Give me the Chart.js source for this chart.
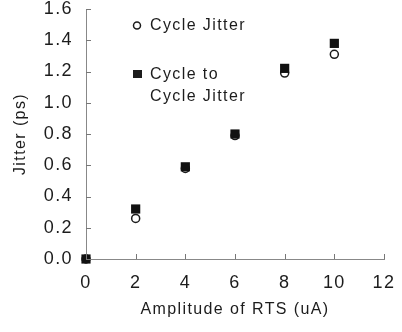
<!DOCTYPE html>
<html>
<head>
<meta charset="utf-8">
<script src="https://cdn.jsdelivr.net/npm/chart.js@4/dist/chart.umd.min.js"></script>
<style>
  html, body { margin: 0; padding: 0; background: #fff; }
  #wrap { width: 402px; height: 332px; }
</style>
</head>
<body>
<div id="wrap"><canvas id="chart" width="402" height="332"></canvas></div>
<script>
const amplitude = [0, 2, 4, 6, 8, 10];
const cycleJitter = [0, 0.26, 0.58, 0.79, 1.19, 1.31];
const cycleToCycleJitter = [0, 0.32, 0.59, 0.80, 1.22, 1.38];
const xTicks = [0, 2, 4, 6, 8, 10, 12];
const yTicks = [0.0, 0.2, 0.4, 0.6, 0.8, 1.0, 1.2, 1.4, 1.6];

const FONT = "'Liberation Sans', Arial, sans-serif";
const INK = "#1c1c1c";

// the scanned figure uses a loosely spaced sans, so widen every string a bit
const spacing = {
  id: "spacing",
  beforeDraw(chart) {
    chart.ctx.letterSpacing = "1.4px";
  }
};

// ticks in this plot point inward, so draw them by hand
const innerTicks = {
  id: "innerTicks",
  afterDraw(chart) {
    const { ctx, scales: { x, y } } = chart;
    ctx.save();
    ctx.strokeStyle = "#777";
    ctx.lineWidth = 1;
    ctx.beginPath();
    yTicks.forEach(v => {
      const py = Math.round(y.getPixelForValue(v)) + 0.5;
      ctx.moveTo(x.left, py);
      ctx.lineTo(x.left + 5, py);
    });
    xTicks.forEach(v => {
      const px = Math.round(x.getPixelForValue(v)) + 0.5;
      ctx.moveTo(px, y.bottom);
      ctx.lineTo(px, y.bottom - 5);
    });
    ctx.stroke();
    ctx.restore();
  }
};

// legend with a two line label, placed inside the plot
const legendBox = {
  id: "legendBox",
  afterDraw(chart) {
    const ctx = chart.ctx;
    ctx.save();
    ctx.font = "16px " + FONT;
    ctx.fillStyle = INK;
    ctx.textBaseline = "middle";
    ctx.textAlign = "left";

    ctx.beginPath();
    ctx.arc(137, 25.5, 3.5, 0, Math.PI * 2);
    ctx.lineWidth = 1.5;
    ctx.strokeStyle = INK;
    ctx.stroke();
    ctx.fillText("Cycle Jitter", 150, 26);

    ctx.fillRect(133, 70, 9, 8);
    ctx.fillText("Cycle to", 150, 75);
    ctx.fillText("Cycle Jitter", 150, 97);
    ctx.restore();
  }
};

function noPad(s) {
  s.paddingTop = 0;
  s.paddingBottom = 0;
  s.paddingLeft = 0;
  s.paddingRight = 0;
}

new Chart(document.getElementById("chart"), {
  type: "scatter",
  data: {
    datasets: [
      {
        label: "Cycle Jitter",
        data: amplitude.map((a, i) => ({ x: a, y: cycleJitter[i] })),
        pointStyle: "circle",
        pointRadius: 4,
        pointBorderWidth: 1.5,
        pointBorderColor: INK,
        pointBackgroundColor: "#fff",
        clip: false,
        order: 1,
      },
      {
        label: "Cycle to Cycle Jitter",
        data: amplitude.map((a, i) => ({ x: a, y: cycleToCycleJitter[i] })),
        pointStyle: "rect",
        pointRadius: 6.5,
        pointBorderWidth: 0,
        pointBackgroundColor: "#111",
        clip: false,
        order: 0,
      },
    ],
  },
  options: {
    responsive: false,
    animation: false,
    layout: { padding: { top: 9, right: 18, left: 0, bottom: 0 } },
    plugins: {
      legend: { display: false },
      tooltip: { enabled: false },
    },
    scales: {
      x: {
        type: "linear",
        min: 0,
        max: 12,
        afterBuildTicks: s => { s.ticks = xTicks.map(v => ({ value: v })); },
        afterFit: s => { s.height = 73; noPad(s); },
        grid: { display: false, drawTicks: false },
        border: { color: "#888", width: 1, dash: [1, 1] },
        ticks: { color: INK, font: { family: FONT, size: 18 }, padding: 13 },
        title: {
          display: true,
          text: "Amplitude of RTS (uA)",
          color: INK,
          font: { family: FONT, size: 16 },
          padding: { top: 0, bottom: 13 },
        },
      },
      y: {
        type: "linear",
        min: 0,
        max: 1.6,
        afterBuildTicks: s => { s.ticks = yTicks.map(v => ({ value: v })); },
        afterFit: s => { s.width = 86; noPad(s); },
        grid: { display: false, drawTicks: false },
        border: { color: "#888", width: 1, dash: [1, 1] },
        ticks: {
          color: INK,
          font: { family: FONT, size: 18 },
          padding: 13,
          callback: v => v.toFixed(1),
        },
        title: {
          display: true,
          text: "Jitter (ps)",
          color: INK,
          font: { family: FONT, size: 16 },
          padding: { top: 11, bottom: 0 },
        },
      },
    },
  },
  plugins: [spacing, innerTicks, legendBox],
});
</script>
</body>
</html>
